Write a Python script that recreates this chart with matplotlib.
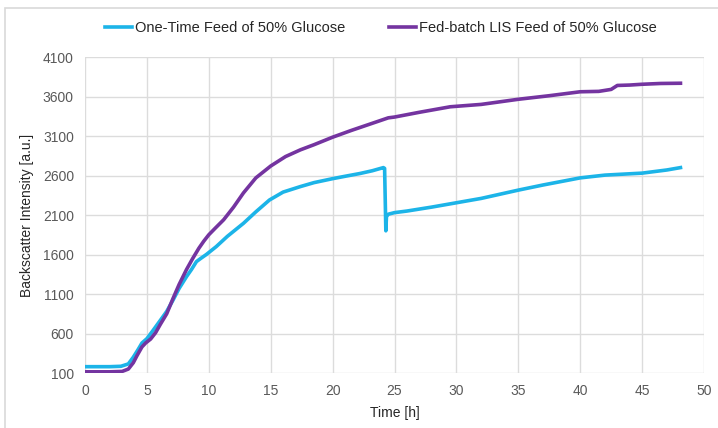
import matplotlib
matplotlib.use("Agg")
import matplotlib.pyplot as plt
from matplotlib.patches import Rectangle

plt.rcParams['font.family'] = ['Liberation Sans', 'DejaVu Sans']

# one-time feed (cyan)
t_one = [0, 1, 2, 2.9, 3.5, 3.9, 4.3, 4.6, 5.0, 5.5, 6.1, 6.6, 7.1, 7.6, 8.2, 8.6, 9.0,
         9.3, 9.8, 10.6, 11.5, 12.8, 13.8, 14.9, 16.0, 17.4, 18.5, 20.0, 21.0, 22.2,
         23.2, 24.1, 24.2, 24.25, 24.3, 24.35, 24.5, 25.0, 26, 28, 30, 32, 35, 37,
         40, 42, 45, 47, 48.1]
y_one = [180, 180, 180, 185, 215, 300, 400, 480, 535, 640, 770, 880, 1020, 1170,
         1320, 1410, 1510, 1545, 1600, 1700, 1830, 1995, 2140, 2290, 2390, 2460,
         2510, 2560, 2590, 2625, 2660, 2700, 2690, 2300, 1900, 2080, 2110, 2130,
         2150, 2200, 2255, 2310, 2415, 2480, 2570, 2605, 2630, 2670, 2700]

# fed-batch LIS feed (purple)
t_fed = [0, 1, 2, 3.0, 3.5, 3.9, 4.2, 4.6, 4.9, 5.3, 5.7, 6.1, 6.6, 7.1, 7.6, 8.2,
         8.7, 9.2, 9.6, 10.0, 10.5, 11.2, 12.0, 12.8, 13.8, 15.0, 16.2, 17.4, 18.5,
         20.0, 21.5, 23.0, 24.5, 25.0, 27, 29.5, 32, 35, 37.5, 40, 41.5, 42.5, 43.0,
         44, 45, 46.5, 48.1]
y_fed = [115, 115, 115, 120, 150, 230, 320, 430, 480, 530, 610, 720, 850, 1040,
         1220, 1410, 1550, 1680, 1770, 1850, 1930, 2040, 2200, 2380, 2570, 2720,
         2840, 2925, 2990, 3085, 3170, 3250, 3330, 3340, 3400, 3470, 3500, 3565,
         3610, 3660, 3665, 3690, 3740, 3745, 3755, 3765, 3768]

x_ticks = list(range(0, 51, 5))
y_ticks = list(range(100, 4101, 500))

fig = plt.figure(figsize=(7.18, 4.28), dpi=100)
ax = fig.add_axes([0.1184, 0.1285, 0.8621, 0.7383])

ax.plot(t_one, y_one, color='#1cb4e8', lw=2.6, label='One-Time Feed of 50% Glucose',
        solid_joinstyle='round', zorder=3)
ax.plot(t_fed, y_fed, color='#7434a0', lw=2.6, label='Fed-batch LIS Feed of 50% Glucose',
        solid_joinstyle='round', zorder=3)

ax.set_xlim(0, 50)
ax.set_ylim(100, 4100)
ax.set_xticks(x_ticks)
ax.set_yticks(y_ticks)
ax.grid(True, color='#dcdcdc', lw=1.0)
ax.set_axisbelow(True)
for s in ax.spines.values():
    s.set_visible(False)
ax.tick_params(length=0, labelsize=10, colors='#595959', pad=8)
ax.set_xlabel('Time [h]', fontsize=10, color='#262626', labelpad=6)
ax.set_ylabel('Backscatter Intensity [a.u.]', fontsize=10, color='#262626', labelpad=6)

fig.legend(loc='center', bbox_to_anchor=(0.53, 0.934), ncol=2, frameon=False,
           fontsize=10.5, handlelength=1.9, handletextpad=0.15, columnspacing=3.0,
           labelcolor='#262626')

fig.patches.append(Rectangle((5 / 718, -0.1), 1.2, 1.1 - 8 / 428, transform=fig.transFigure,
                             fill=False, edgecolor='#d9d9d9', lw=1.2, zorder=0))

fig.savefig('out.png', dpi=100)
